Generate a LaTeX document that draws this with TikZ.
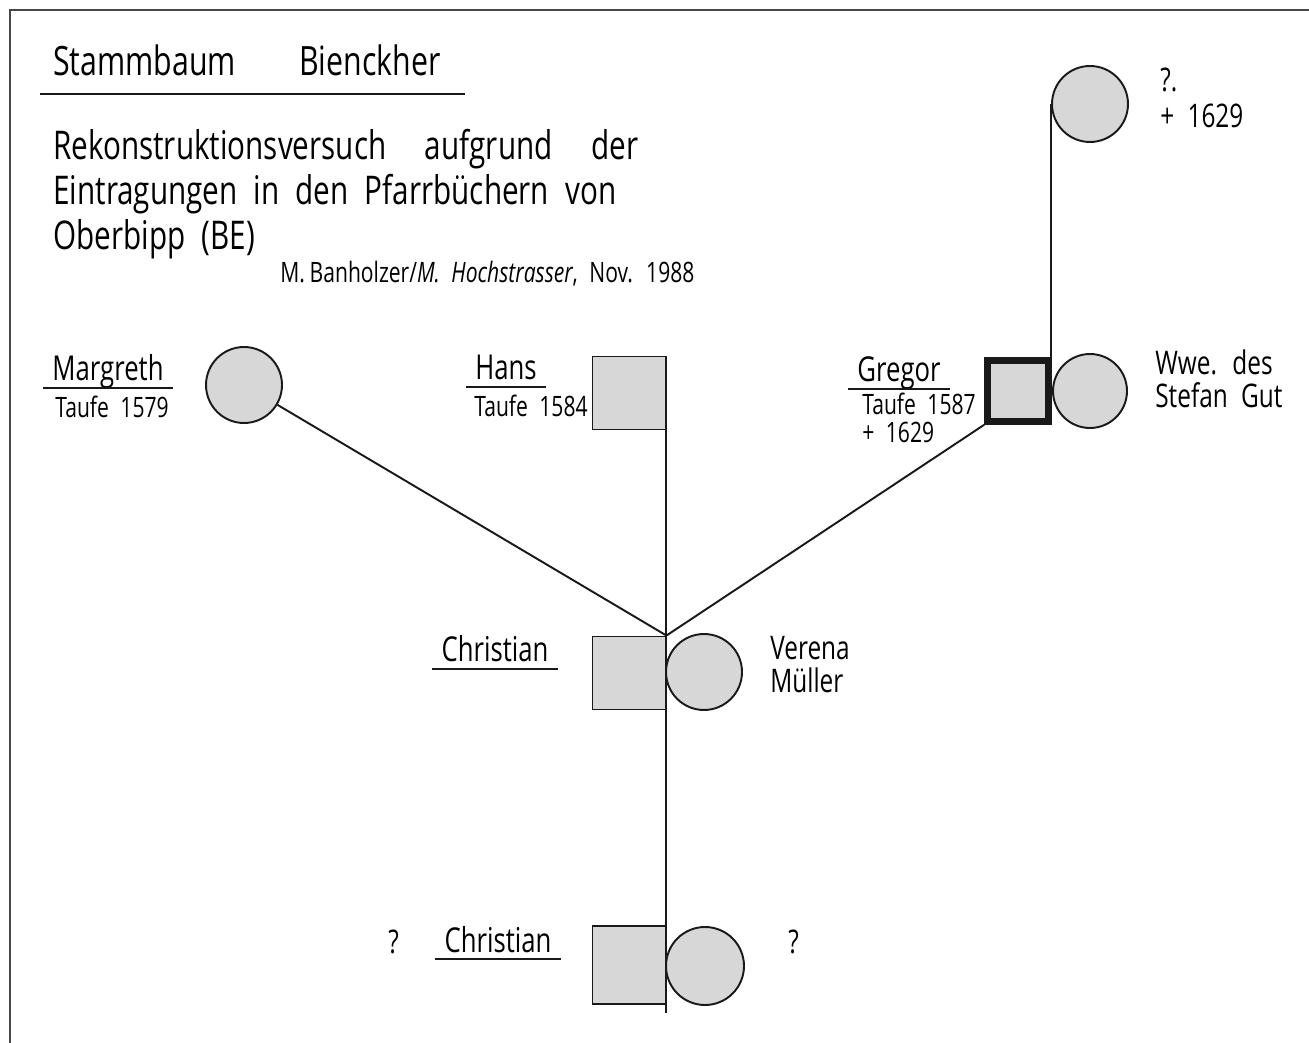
\documentclass[tikz,border=0pt]{standalone}
\usepackage{fontspec}
\setmainfont[FakeStretch=0.75,WordSpace=2.1]{Open Sans}
\usetikzlibrary{positioning,calc}
\definecolor{shade}{RGB}{215,215,215}
\definecolor{ink}{RGB}{25,25,25}
\tikzset{
  male/.style    = {rectangle,draw=ink,fill=shade,line width=1.1pt,minimum size=1.46cm,inner sep=0pt},
  female/.style  = {circle,draw=ink,fill=shade,line width=1.1pt,minimum size=1.52cm,inner sep=0pt},
  heir/.style    = {line width=4pt,minimum size=1.21cm},
  link/.style    = {draw=ink,line width=1.1pt},
  nametag/.style = {inner xsep=5pt,inner ysep=0pt,anchor=base,font=\fontsize{19.5}{23}\selectfont},
  note/.style    = {inner sep=0pt,anchor=base west,align=left,font=\fontsize{18.5}{19}\selectfont},
  baptism/.style = {note,font=\fontsize{16}{16.5}\selectfont},
  intro/.style   = {inner sep=0pt,anchor=base west,font=\fontsize{22.5}{27}\selectfont},
}
\newcommand{\NameTag}[3]{%
  % name of the person (baseline at #2)
  \node[nametag] (#1) at #2 {#3};
  % underline below the name
  \draw[link] ($(#1.base west)+(0,7)$) -- ($(#1.base east)+(0,7)$);
}

\begin{document}
\begin{tikzpicture}[x=0.02cm,y=-0.02cm]
  \useasboundingbox (0,0) rectangle (1309,1043);
  % frame (top and left edge)
  \draw[draw=ink!80,line width=1.6pt] (10,1043) -- (10,10) -- (1309,10);

  % heading
  \node[intro,font=\fontsize{23}{27}\selectfont] (stamm) at (53,76) {Stammbaum};
  \node[intro,font=\fontsize{23}{27}\selectfont] (bien) at (299,76) {Bienckher};
  \draw[link] (40,94) -- (465,94);

  \node[intro] (intro1) at (53,160) {Rekonstruktionsversuch\hspace{22pt}aufgrund\hspace{22pt}der};
  \node[intro] (intro2) at (53,205) {Eintragungen in den Pfarrbüchern von};
  \node[intro] (intro3) at (53,250) {Oberbipp (BE)};
  \node[note,font=\fontsize{16}{19}\selectfont] (sign) at (280,283)
    {M.\,Banholzer/\textit{M. Hochstrasser}, Nov. 1988};

  % persons
  \node[female]      (margreth)  at (244,385) {};
  \node[male]        (hans)      at (629,393) {};
  \node[male,heir]   (gregor)    at (1018,391) {};
  \node[female,minimum size=1.48cm] (wwe) at (1090,391) {};
  \node[female]      (mother)    at (1090,104) {};
  \node[male]        (christian) at (629,673) {};
  \node[female]      (verena)    at (704,672) {};
  \node[male,minimum height=1.56cm] (kid) at (629,965) {};
  \node[female,minimum size=1.56cm] (kidwife) at (705,966) {};

  % lines of descent
  \draw[link] (margreth) -- (christian.north east);
  \draw[link] (gregor.south west) -- (christian.north east);
  \draw[link] (hans.north east) -- ($(kid.south east)+(0,8)$);
  \draw[link] (mother.west) -- (mother.west |- gregor.north);

  % labels (multi-line notes sit on their last baseline)
  \NameTag{margName}{(108,381)}{Margreth}
  \node[baptism] (margNote) at (55,418) {Taufe 1579};
  \NameTag{hansName}{(506,380)}{Hans}
  \node[baptism,anchor=base east] (hansNote) at (588,417) {Taufe 1584};
  \NameTag{gregName}{(899,382)}{Gregor}
  \node[baptism] (gregNote) at (862,443) {Taufe 1587\\+ 1629};
  \node[note] (wweNote) at (1155,408) {Wwe. des\\Stefan Gut};
  \node[note,font=\fontsize{18.5}{20.5}\selectfont] (motherNote) at (1160,128) {?.\\+ 1629};
  \NameTag{chrName}{(495,662)}{Christian}
  \node[note] (verNote) at (770,693) {Verena\\Müller};
  \node[note] (kidQ) at (388,953) {?};
  \NameTag{kidName}{(498,952)}{Christian}
  \node[note] (kidwifeQ) at (788,953) {?};
\end{tikzpicture}
\end{document}
